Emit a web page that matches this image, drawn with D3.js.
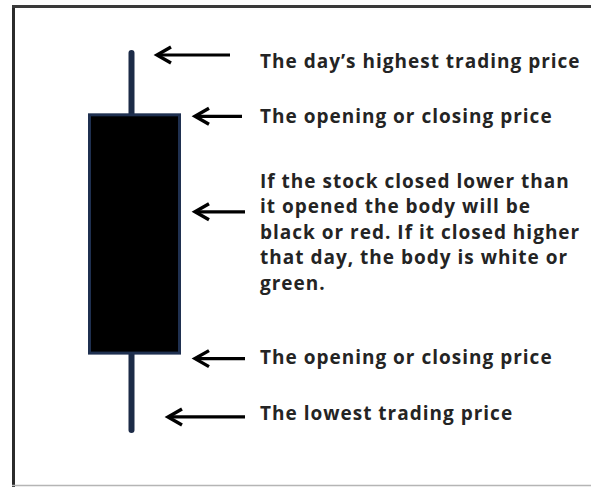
<!DOCTYPE html>
<html>
<head>
<meta charset="utf-8">
<script src="https://cdn.jsdelivr.net/npm/d3@7"></script>
<style>
  html, body { margin: 0; padding: 0; background: #fff; }
  svg { display: block; }
</style>
</head>
<body>
<div id="chart"></div>
<script>
// one candle, prices in arbitrary units
const candleDays = ["day"];
const candleHigh = [60];
const candleOpen = [54];
const candleClose = [30];
const candleLow = [22.5];

// what each arrow points at (price level) and what it says
const notePrices = [59.8, 53.7, 44.2, 29.6, 23.8];
const noteTexts = [
    ["The day\u2019s highest trading price"],
    ["The opening or closing price"],
    ["If the stock closed lower than",
     "it opened the body will be",
     "black or red. If it closed higher",
     "that day, the body is white or",
     "green."],
    ["The opening or closing price"],
    ["The lowest trading price"]
];

const width = 591, height = 487;

const svg = d3.select("#chart")
    .append("svg")
    .attr("width", width)
    .attr("height", height);

// frame (left + top dark, bottom faint)
svg.append("line")
    .attr("x1", 13.5).attr("x2", 13.5).attr("y1", 5).attr("y2", height)
    .attr("stroke", "#2b2b2b").attr("stroke-width", 3);
svg.append("line")
    .attr("x1", 12).attr("x2", width).attr("y1", 6.5).attr("y2", 6.5)
    .attr("stroke", "#3a3a3a").attr("stroke-width", 3);
svg.append("line")
    .attr("x1", 12).attr("x2", width).attr("y1", 485.5).attr("y2", 485.5)
    .attr("stroke", "#b5b5b5").attr("stroke-width", 1.5);

const y = d3.scaleLinear()
    .domain([d3.min(candleLow), d3.max(candleHigh)])
    .range([430, 53]);

const x = d3.scaleBand()
    .domain(candleDays)
    .range([88, 181])
    .padding(0);

const candles = candleDays.map((d, i) => ({
    day: d, high: candleHigh[i], open: candleOpen[i], close: candleClose[i], low: candleLow[i]
}));

const g = svg.append("g").attr("class", "candles");

// wick
g.selectAll(".wick")
    .data(candles)
    .enter().append("line")
    .attr("class", "wick")
    .attr("x1", d => x(d.day) + x.bandwidth() / 2 - 3)
    .attr("x2", d => x(d.day) + x.bandwidth() / 2 - 3)
    .attr("y1", d => y(d.high))
    .attr("y2", d => y(d.low))
    .attr("stroke", "#1c2b47")
    .attr("stroke-width", 6)
    .attr("stroke-linecap", "round");

// body
g.selectAll(".body")
    .data(candles)
    .enter().append("rect")
    .attr("class", "body")
    .attr("x", d => x(d.day) + 1.5)
    .attr("width", x.bandwidth() - 3)
    .attr("y", d => y(Math.max(d.open, d.close)) + 1.5)
    .attr("height", d => y(Math.min(d.open, d.close)) - y(Math.max(d.open, d.close)) - 3)
    .attr("fill", "#000")
    .attr("stroke", "#1f3050")
    .attr("stroke-width", 3);

// arrow layout: tip x, tail x, text baseline offset from arrow
const arrowTip = [157, 195, 195, 195, 168];
const arrowTail = [230, 242, 245, 245, 245];
const textDy = [13, 7, -24, 5, 3];
const textX = 260;
const lineH = 25.5;

const notes = notePrices.map((p, i) => ({ price: p, lines: noteTexts[i], i: i }));

const ng = svg.append("g")
    .selectAll(".note")
    .data(notes)
    .enter().append("g")
    .attr("class", "note");

ng.append("line")
    .attr("x1", d => arrowTip[d.i] + 1)
    .attr("x2", d => arrowTail[d.i])
    .attr("y1", d => y(d.price))
    .attr("y2", d => y(d.price))
    .attr("stroke", "#000")
    .attr("stroke-width", 3.2);

ng.append("path")
    .attr("d", d => {
        const tx = arrowTip[d.i], ty = y(d.price);
        return `M${tx + 14},${ty - 8} L${tx},${ty} L${tx + 14},${ty + 8}`;
    })
    .attr("fill", "none")
    .attr("stroke", "#000")
    .attr("stroke-width", 3.4)
    .attr("stroke-linejoin", "miter");

ng.append("text")
    .attr("x", textX)
    .attr("y", d => y(d.price) + textDy[d.i])
    .attr("font-family", "'Open Sans', sans-serif")
    .attr("font-weight", "bold")
    .attr("font-size", "19px")
    .attr("letter-spacing", "1px")
    .attr("fill", "#242424")
    .selectAll("tspan")
    .data(d => d.lines)
    .enter().append("tspan")
    .attr("x", textX)
    .attr("dy", (t, j) => j === 0 ? 0 : lineH)
    .text(t => t);
</script>
</body>
</html>
